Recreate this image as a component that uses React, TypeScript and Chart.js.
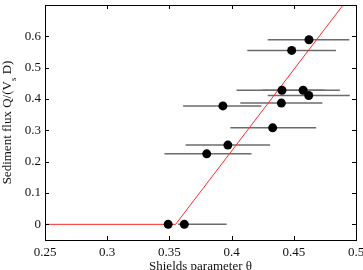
import { useEffect, useRef } from 'react';
import { Chart, registerables } from 'chart.js';

Chart.register(...registerables);

// Measured points: Shields parameter θ vs sediment flux Q/(V_s D)
const theta = [0.349, 0.362, 0.380, 0.397, 0.393, 0.433, 0.440, 0.4405, 0.4575, 0.462, 0.4483, 0.4622];
const flux = [0, 0, 0.225, 0.253, 0.378, 0.308, 0.387, 0.428, 0.428, 0.411, 0.555, 0.589];
const thetaLo = [0.349, 0.357, 0.346, 0.363, 0.361, 0.399, 0.407, 0.404, 0.425, 0.429, 0.4126, 0.429];
const thetaHi = [0.349, 0.396, 0.416, 0.431, 0.424, 0.468, 0.473, 0.487, 0.475, 0.495, 0.4839, 0.4946];
const fluxErr = [0, 0, 0, 0, 0, 0, 0, 0, 0, 0, 0.01, 0.008];

// Fitted threshold line
const fitTheta = [0.25, 0.355, 0.5];
const fitFlux = [0, 0, 0.754];

const xTicks = [0.25, 0.3, 0.35, 0.4, 0.45, 0.5];
const yTicks = [0, 0.1, 0.2, 0.3, 0.4, 0.5, 0.6];

const FONT = "'Liberation Serif', 'Times New Roman', serif";

const framePlugin = {
  id: 'frame',
  afterDraw(chart: any) {
    const { ctx, chartArea: a, scales } = chart;
    const x = scales.x;
    const y = scales.y;
    ctx.save();
    ctx.strokeStyle = '#000';
    ctx.lineWidth = 1;
    ctx.strokeRect(Math.round(a.left) + 0.5, Math.round(a.top) + 0.5, Math.round(a.right - a.left), Math.round(a.bottom - a.top));
    const L = 4;
    ctx.beginPath();
    xTicks.forEach((v) => {
      const px = Math.round(x.getPixelForValue(v)) + 0.5;
      ctx.moveTo(px, a.bottom);
      ctx.lineTo(px, a.bottom - L);
      ctx.moveTo(px, a.top);
      ctx.lineTo(px, a.top + L);
    });
    yTicks.forEach((v) => {
      const py = Math.round(y.getPixelForValue(v)) + 0.5;
      ctx.moveTo(a.left, py);
      ctx.lineTo(a.left + L, py);
      ctx.moveTo(a.right, py);
      ctx.lineTo(a.right - L, py);
    });
    ctx.stroke();

    // axis titles
    ctx.fillStyle = '#111';
    ctx.font = `13px ${FONT}`;
    ctx.textAlign = 'center';
    ctx.textBaseline = 'alphabetic';
    ctx.fillText('Shields parameter θ', (a.left + a.right) / 2, 270);

    const p1 = 'Sediment flux Q/(V';
    const ps = 's';
    const p2 = ' D)';
    ctx.translate(8, (a.top + a.bottom) / 2);
    ctx.rotate(-Math.PI / 2);
    ctx.font = `13px ${FONT}`;
    const w1 = ctx.measureText(p1).width;
    const w2 = ctx.measureText(p2).width;
    ctx.font = `9px ${FONT}`;
    const ws = ctx.measureText(ps).width;
    const total = w1 + ws + w2;
    let cx = -total / 2;
    ctx.textAlign = 'left';
    ctx.textBaseline = 'middle';
    ctx.font = `13px ${FONT}`;
    ctx.fillText(p1, cx, 0);
    cx += w1;
    ctx.font = `9px ${FONT}`;
    ctx.fillText(ps, cx, 6);
    cx += ws;
    ctx.font = `13px ${FONT}`;
    ctx.fillText(p2, cx, 0);
    ctx.restore();
  },
};

export default function App() {
  const ref = useRef<HTMLCanvasElement>(null);
  useEffect(() => {
    document.body.style.margin = '0';
    const errSets: any[] = [];
    theta.forEach((t, i) => {
      if (thetaHi[i] > thetaLo[i]) {
        errSets.push({
          type: 'scatter',
          data: [{ x: thetaLo[i], y: flux[i] }, { x: thetaHi[i], y: flux[i] }],
          showLine: true,
          borderColor: '#6b6b6b',
          borderWidth: 1.5,
          pointRadius: 0,
          order: 3,
        });
      }
      if (fluxErr[i] > 0) {
        errSets.push({
          type: 'scatter',
          data: [{ x: t, y: flux[i] - fluxErr[i] }, { x: t, y: flux[i] + fluxErr[i] }],
          showLine: true,
          borderColor: '#6b6b6b',
          borderWidth: 1.5,
          pointRadius: 0,
          order: 3,
        });
      }
    });
    const chart = new Chart(ref.current!, {
      type: 'scatter',
      data: {
        datasets: [
          {
            data: theta.map((t, i) => ({ x: t, y: flux[i] })),
            backgroundColor: '#000',
            borderColor: '#000',
            pointRadius: 4.5,
            borderWidth: 0,
            order: 0,
          },
          {
            data: fitTheta.map((t, i) => ({ x: t, y: fitFlux[i] })),
            showLine: true,
            borderColor: '#ff2a2a',
            borderWidth: 1,
            pointRadius: 0,
            order: 1,
          } as any,
          ...errSets,
        ],
      },
      options: {
        animation: false,
        responsive: false,
        maintainAspectRatio: false,
        layout: { padding: { top: 5, right: 7, left: 0, bottom: 0 } },
        plugins: { legend: { display: false }, tooltip: { enabled: false } },
        scales: {
          x: {
            type: 'linear',
            min: 0.25,
            max: 0.5,
            grid: { display: false, drawTicks: false },
            border: { display: false },
            afterBuildTicks: (s: any) => {
              s.ticks = xTicks.map((v) => ({ value: v }));
            },
            afterFit: (s: any) => {
              s.height = 30;
              s.paddingLeft = 0;
              s.paddingRight = 0;
            },
            ticks: {
              padding: 5,
              color: '#111',
              font: { family: FONT, size: 13 },
              maxRotation: 0,
              callback: (v: any) => String(v),
            },
          },
          y: {
            type: 'linear',
            min: -0.05,
            max: 0.7,
            grid: { display: false, drawTicks: false },
            border: { display: false },
            afterBuildTicks: (s: any) => {
              s.ticks = yTicks.map((v) => ({ value: v }));
            },
            afterFit: (s: any) => {
              s.width = 45;
              s.paddingTop = 0;
              s.paddingBottom = 0;
            },
            ticks: {
              padding: 4,
              color: '#111',
              font: { family: FONT, size: 13 },
              callback: (v: any) => String(v),
            },
          },
        },
      },
      plugins: [framePlugin],
    } as any);
    return () => chart.destroy();
  }, []);
  return (
    <div style={{ position: 'absolute', left: 0, top: 0, width: 363, height: 270, background: '#fff' }}>
      <canvas ref={ref} width={363} height={270} style={{ display: 'block' }} />
    </div>
  );
}
